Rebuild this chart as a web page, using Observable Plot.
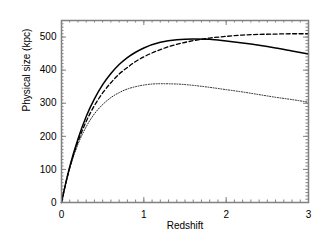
<!DOCTYPE html>
<html><head><meta charset="utf-8">
<script src="https://cdn.jsdelivr.net/npm/d3@7"></script>
<script src="https://cdn.jsdelivr.net/npm/@observablehq/plot@0.6"></script>
<style>body{margin:0;background:#fff} svg{display:block}</style>
</head><body><div id="chart"></div>
<script>
const redshift      = [0, 0.05, 0.1, 0.2, 0.3, 0.4, 0.5, 0.6, 0.7, 0.8, 0.9, 1.0, 1.2, 1.4, 1.6, 1.8, 2.0, 2.2, 2.4, 2.6, 2.8, 3.0];
const sizeSolid     = [0, 57, 108, 192, 260, 313, 356, 390, 417, 438, 454, 467, 484, 492, 494, 493, 488, 482, 475, 467, 458, 449];
const sizeDashed    = [0, 56, 105, 184, 245, 293, 331, 362, 388, 408, 426, 440, 462, 478, 489, 497, 502, 506, 508, 509, 510, 510];
const sizeDotted    = [0, 56, 103, 176, 229, 268, 296, 317, 332, 343, 350, 355, 359, 358, 354, 348, 341, 334, 326, 318, 311, 303];
const xTickLabels   = [0, 1, 2, 3];
const yTickLabels   = [0, 100, 200, 300, 400, 500];
const xLabel = "Redshift";
const yLabel = "Physical size (kpc)";

const W = 327, H = 241, mL = 61, mR = 19, mT = 20, mB = 39;
const pw = W - mL - mR, ph = H - mT - mB;
const xMinor = d3.range(0, 3.0001, 0.1).map(d => +d.toFixed(2));
const yMinor = d3.range(0, 551, 10);
const tickColor = "#808080";
const majorLen = 5, minorLen = 2.5;

const series = (vals) => redshift.map((z, i) => ({z, v: vals[i]}));

const chart = Plot.plot({
  width: W, height: H,
  marginLeft: mL, marginRight: mR, marginTop: mT, marginBottom: mB,
  x: {domain: [0, 3]},
  y: {domain: [0, 550]},
  style: {fontFamily: "'Liberation Sans', Arial, sans-serif", fontSize: "10px", color: "black", background: "white"},
  marks: [
    // minor & major ticks, all four sides, pointing inward
    Plot.tickX(xMinor, {x: d => d, insetTop: ph - minorLen, stroke: tickColor}),
    Plot.tickX(xMinor, {x: d => d, insetBottom: ph - minorLen, stroke: tickColor}),
    Plot.tickX(xTickLabels, {x: d => d, insetTop: ph - majorLen, stroke: tickColor}),
    Plot.tickX(xTickLabels, {x: d => d, insetBottom: ph - majorLen, stroke: tickColor}),
    Plot.tickY(yMinor, {y: d => d, insetRight: pw - minorLen, stroke: tickColor}),
    Plot.tickY(yMinor, {y: d => d, insetLeft: pw - minorLen, stroke: tickColor}),
    Plot.tickY(yTickLabels, {y: d => d, insetRight: pw - majorLen, stroke: tickColor}),
    Plot.tickY(yTickLabels, {y: d => d, insetLeft: pw - majorLen, stroke: tickColor}),
    Plot.axisX(xTickLabels, {tickSize: 0, tickPadding: 8, label: null, tickFormat: d => String(d)}),
    Plot.axisY(yTickLabels, {tickSize: 0, tickPadding: 5, label: null, tickFormat: d => String(d)}),
    Plot.line(series(sizeDotted), {x: "z", y: "v", stroke: "#222", strokeWidth: 1, strokeDasharray: "1,1.6", curve: "monotone-x"}),
    Plot.line(series(sizeDashed), {x: "z", y: "v", stroke: "black", strokeWidth: 1.3, strokeDasharray: "4,2.5", curve: "monotone-x"}),
    Plot.line(series(sizeSolid), {x: "z", y: "v", stroke: "black", strokeWidth: 1.5, curve: "monotone-x"}),
    Plot.frame({stroke: tickColor, strokeWidth: 1.5}),
    Plot.text([xLabel], {frameAnchor: "bottom", dy: 26, text: d => d}),
    Plot.text([yLabel], {frameAnchor: "left", dx: -35, rotate: -90, text: d => d})
  ]
});
document.getElementById("chart").appendChild(chart);
</script>
</body></html>
